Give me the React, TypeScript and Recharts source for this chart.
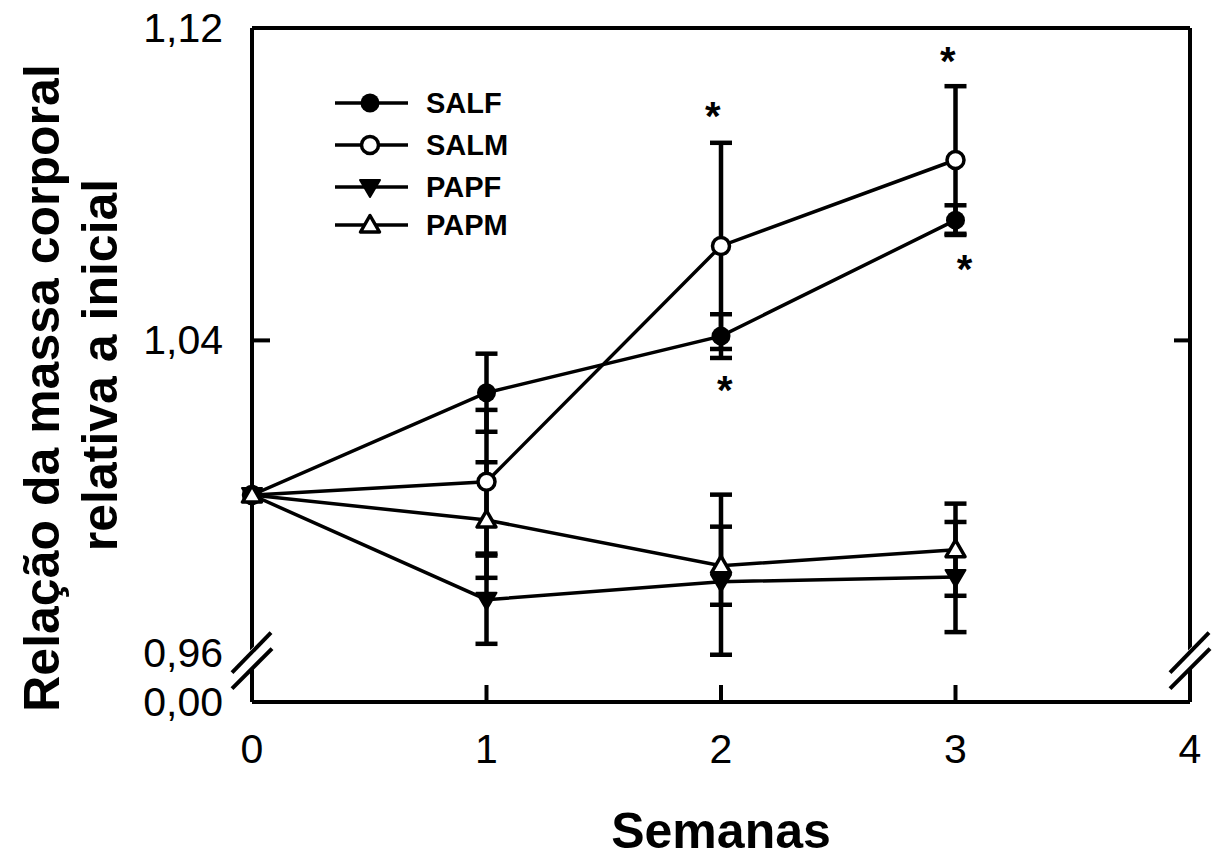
import React from 'react';
import {
  ComposedChart,
  Line,
  XAxis,
  YAxis,
  ErrorBar,
  Scatter,
  ReferenceLine,
  ReferenceDot,
  Legend,
} from 'recharts';

// ---------- data ----------
const WEEKS = [0, 1, 2, 3];
const SERIES_NAMES = ['SALF', 'SALM', 'PAPF', 'PAPM'];
const SALF = [1.0004, 1.0266, 1.0411, 1.0708];
const SALF_ERR: any[] = [null, 0.01, 0.0056, 0.0038];
const SALM = [1.0004, 1.0038, 1.0642, 1.0862];
const SALM_ERR: any[] = [null, 0.0184, 0.0264, 0.0189];
const PAPF = [1.0004, 0.9736, 0.9782, 0.9794];
const PAPF_ERR: any[] = [null, 0.0113, [0.0187, 0.0223], 0.0141];
const PAPM = [1.0004, 0.994, 0.9823, 0.9864];
const PAPM_ERR: any[] = [null, 0.0148, 0.01, 0.0118];

const X_TICKS = [0, 1, 2, 3, 4];
const Y_MIN = 0.9474;
const Y_MAX = 1.12;
const Y_TICKS = [Y_MIN, 0.96, 1.04, 1.12];
const Y_BREAK = 0.958;

// significance marks (*)
const STAR_WEEKS = [1.965, 2.016, 2.967, 3.039];
const STAR_VALUES = [1.0998, 1.0296, 1.1139, 1.0606];

const X_LABEL = 'Semanas';
const Y_LABEL_1 = 'Relação da massa corporal';
const Y_LABEL_2 = 'relativa a inicial';

// ---------- build tables ----------
const rows = WEEKS.map((w, i) => ({
  week: w,
  SALF: SALF[i],
  SALF_err: SALF_ERR[i],
  SALM: SALM[i],
  SALM_err: SALM_ERR[i],
  PAPF: PAPF[i],
  PAPF_err: PAPF_ERR[i],
  PAPM: PAPM[i],
  PAPM_err: PAPM_ERR[i],
}));
const stars = STAR_WEEKS.map((w, i) => ({ week: w, star: STAR_VALUES[i] }));

const FONT = '"Liberation Sans", Arial, sans-serif';

// ---------- markers ----------
function Marker({ kind, cx, cy }: { kind: string; cx: number; cy: number }) {
  if (kind === 'SALF') return <circle cx={cx} cy={cy} r={9.5} fill="#000" />;
  if (kind === 'SALM')
    return <circle cx={cx} cy={cy} r={8.5} fill="#fff" stroke="#000" strokeWidth={3.5} />;
  if (kind === 'PAPF')
    return (
      <polygon
        points={`${cx - 10},${cy - 7} ${cx + 10},${cy - 7} ${cx},${cy + 10}`}
        fill="#000"
        stroke="#000"
        strokeWidth={2}
        strokeLinejoin="round"
      />
    );
  return (
    <polygon
      points={`${cx - 9.5},${cy + 7} ${cx + 9.5},${cy + 7} ${cx},${cy - 9.5}`}
      fill="#fff"
      stroke="#000"
      strokeWidth={3.5}
      strokeLinejoin="round"
    />
  );
}

const makeDot = (kind: string) => (props: any) => {
  const { cx, cy, index } = props;
  if (cx == null || cy == null) return <g key={`${kind}-${index}`} />;
  return (
    <g key={`${kind}-${index}`}>
      <Marker kind={kind} cx={cx} cy={cy} />
    </g>
  );
};

// ---------- ticks ----------
const fmtY = (v: number) => (v < 0.95 ? '0,00' : v.toFixed(2).replace('.', ','));

const LeftTick = (props: any) => {
  const { x, y, payload } = props;
  const v = payload.value;
  return (
    <g>
      <text
        x={x - 29}
        y={y + 14}
        textAnchor="end"
        fontFamily={FONT}
        fontSize={41}
        fill="#000"
      >
        {fmtY(v)}
      </text>
      {Math.abs(v - 1.04) < 1e-6 && (
        <line x1={x} x2={x + 18} y1={y} y2={y} stroke="#000" strokeWidth={4} />
      )}
    </g>
  );
};

const RightTick = (props: any) => {
  const { x, y } = props;
  return <line x1={x - 16} x2={x} y1={y} y2={y} stroke="#000" strokeWidth={4} />;
};

const BottomTick = (props: any) => {
  const { x, y, payload } = props;
  const v = payload.value;
  return (
    <g>
      {v > 0 && v < 4 && (
        <line x1={x} x2={x} y1={y} y2={y - 17} stroke="#000" strokeWidth={4} />
      )}
      <text
        x={x}
        y={y + 61}
        textAnchor="middle"
        fontFamily={FONT}
        fontSize={41}
        fill="#000"
      >
        {String(v)}
      </text>
    </g>
  );
};

// ---------- labels ----------
const YAxisTitle = (props: any) => {
  const vb = props.viewBox || { x: 0, y: 28, width: 252, height: 674 };
  const cy = vb.y + vb.height / 2;
  return (
    <g fontFamily={FONT} fontWeight="bold" fontSize={50} fill="#000">
      <text x={59} y={cy + 23} transform={`rotate(-90 59 ${cy + 23})`} textAnchor="middle">
        {Y_LABEL_1}
      </text>
      <text x={117} y={cy} transform={`rotate(-90 117 ${cy})`} textAnchor="middle">
        {Y_LABEL_2}
      </text>
    </g>
  );
};

const XAxisTitle = (props: any) => {
  const vb = props.viewBox || { x: 252, y: 702, width: 938, height: 156 };
  const cx = vb.x + vb.width / 2;
  return (
    <text
      x={cx}
      y={848}
      textAnchor="middle"
      fontFamily={FONT}
      fontWeight="bold"
      fontSize={50}
      fill="#000"
    >
      {X_LABEL}
    </text>
  );
};

// ---------- break marks ----------
const BreakMark = (props: any) => {
  const { cx, cy } = props;
  if (cx == null || cy == null) return <g />;
  return (
    <g>
      <polygon
        points={`${cx - 6},${cy - 6} ${cx + 6},${cy - 18} ${cx + 6},${cy + 3} ${cx - 6},${cy + 14}`}
        fill="#fff"
      />
      <line x1={cx - 20} y1={cy + 12} x2={cx + 19} y2={cy - 28} stroke="#000" strokeWidth={4} />
      <line x1={cx - 20} y1={cy + 28} x2={cx + 20} y2={cy - 12} stroke="#000" strokeWidth={4} />
    </g>
  );
};

// ---------- stars ----------
const StarShape = (props: any) => {
  const { cx, cy } = props;
  return (
    <text
      x={cx}
      y={cy + 23}
      textAnchor="middle"
      fontFamily={FONT}
      fontWeight="bold"
      fontSize={40}
      fill="#000"
    >
      *
    </text>
  );
};

// ---------- legend ----------
const LegendContent = () => {
  const rowsY = [23, 65, 107, 145];
  return (
    <svg width={260} height={175} style={{ overflow: 'visible', display: 'block' }}>
      {SERIES_NAMES.map((name, i) => (
        <g key={name}>
          <line x1={5} x2={78} y1={rowsY[i]} y2={rowsY[i]} stroke="#000" strokeWidth={3.5} />
          <Marker kind={name} cx={40} cy={rowsY[i]} />
          <text
            x={96}
            y={rowsY[i] + 10}
            fontFamily={FONT}
            fontWeight="bold"
            fontSize={29}
            fill="#000"
          >
            {name}
          </text>
        </g>
      ))}
    </svg>
  );
};

export default function App() {
  return (
    <div style={{ position: 'absolute', left: 0, top: 0, width: 1221, height: 858, background: '#fff' }}>
      <ComposedChart
        width={1221}
        height={858}
        data={rows}
        margin={{ top: 28, right: 0, bottom: 0, left: 0 }}
      >
        <XAxis
          dataKey="week"
          type="number"
          domain={[0, 4]}
          ticks={X_TICKS}
          interval={0}
          height={156}
          axisLine={{ stroke: '#000', strokeWidth: 4 }}
          tickLine={false}
          tickSize={0}
          tickMargin={0}
          tick={BottomTick}
          label={<XAxisTitle />}
        />
        <YAxis
          type="number"
          domain={[Y_MIN, Y_MAX]}
          allowDataOverflow
          ticks={Y_TICKS}
          interval={0}
          width={252}
          axisLine={{ stroke: '#000', strokeWidth: 4 }}
          tickLine={false}
          tickSize={0}
          tickMargin={0}
          tick={LeftTick}
          label={<YAxisTitle />}
        />
        <YAxis
          yAxisId="r"
          orientation="right"
          type="number"
          domain={[Y_MIN, Y_MAX]}
          allowDataOverflow
          ticks={[1.04]}
          interval={0}
          width={31}
          axisLine={{ stroke: '#000', strokeWidth: 4 }}
          tickLine={false}
          tickSize={0}
          tickMargin={0}
          tick={RightTick}
        />
        <ReferenceLine y={Y_MAX} stroke="#000" strokeWidth={4} />

        {SERIES_NAMES.map((name) => (
          <Line
            key={name}
            dataKey={name}
            name={name}
            stroke="#000"
            strokeWidth={3.5}
            isAnimationActive={false}
            dot={makeDot(name)}
            activeDot={false}
            legendType="none"
          >
            <ErrorBar
              dataKey={`${name}_err`}
              direction="y"
              width={11}
              stroke="#000"
              strokeWidth={4.5}
              isAnimationActive={false}
            />
          </Line>
        ))}

        <Scatter
          data={stars}
          dataKey="star"
          shape={StarShape}
          isAnimationActive={false}
          legendType="none"
        />

        <ReferenceDot x={0} y={Y_BREAK} ifOverflow="visible" shape={BreakMark} />
        <ReferenceDot x={4} y={Y_BREAK} ifOverflow="visible" shape={BreakMark} />

        <Legend
          layout="horizontal"
          verticalAlign="middle"
          align="center"
          content={LegendContent}
          wrapperStyle={{ position: 'absolute', left: 330, top: 80, width: 260, height: 175 }}
        />
      </ComposedChart>
    </div>
  );
}
